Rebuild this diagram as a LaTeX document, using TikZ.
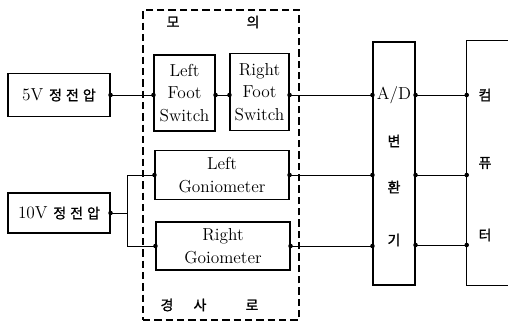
\documentclass[tikz,border=0pt]{standalone}
\usepackage{fontspec}
\newfontfamily\kr[FakeBold=1.2]{Noto Sans CJK KR}
\usetikzlibrary{positioning,calc}
\tikzset{
  blockBox/.style={draw, line width=0.8pt, inner sep=0pt, align=center, font=\fontsize{13}{17}\selectfont},
  mockFrame/.style={draw, line width=0.8pt, dash pattern=on 5.5pt off 3pt, inner sep=0pt},
  wireLine/.style={line width=0.7pt},
  krLabel/.style={font=\kr\fontsize{10.5}{12}\selectfont, inner sep=0pt},
  latLabel/.style={font=\fontsize{13}{17}\selectfont, inner sep=0pt}
}
\newcommand{\jdot}[1]{\fill (#1) circle (1.7pt);}

\begin{document}
\begin{tikzpicture}[x=0.75pt, y=-0.75pt]
  \useasboundingbox (0,0) rectangle (508,322);
  % rows of the signal lines
  \coordinate (rowA) at (0,95);
  \coordinate (rowB) at (0,175);
  \coordinate (rowC) at (0,245);

  % supply boxes
  \node[blockBox, minimum width=76.5pt, minimum height=32.25pt] (v5) at (59,95) {5V {\kr\fontsize{10.5}{12}\selectfont 정\hspace{3pt}전\hspace{3pt}압}};
  \node[blockBox, minimum width=76.5pt, minimum height=30pt] (v10) at (59,213) {10V {\kr\fontsize{10.5}{12}\selectfont 정\hspace{3pt}전\hspace{3pt}압}};

  % mock slope frame
  \node[mockFrame, minimum width=117pt, minimum height=232.5pt] (mock) at (221,165) {};
  \node[krLabel] (moT) at (173,22) {모};
  \node[krLabel] (uiT) at (253,22) {의};
  \node[krLabel] (gyT) at (167,305) {경};
  \node[krLabel] (saT) at (200,305) {사};
  \node[krLabel] (roT) at (252,305) {로};

  % sensors
  \node[blockBox, minimum width=45.75pt, minimum height=57pt] (lfs) at (184.5,93) {Left\\Foot\\Switch};
  \node[blockBox, minimum width=44.25pt, minimum height=57.75pt] (rfs) at (259.5,92) {Right\\Foot\\Switch};
  \node[blockBox, minimum width=100.5pt, minimum height=36.75pt] (lgon) at (222,175) {Left\\Goniometer};
  \node[blockBox, minimum width=100.5pt, minimum height=36pt] (rgon) at (223,246) {Right\\Goiometer};

  % converter and computer
  \node[blockBox, minimum width=31.5pt, minimum height=182.25pt] (adc) at (394,163.5) {};
  \node[latLabel] (adT) at (394,95) {A/D};
  \node[krLabel] (byT) at (394,141) {변};
  \node[krLabel] (hwT) at (394,187) {환};
  \node[krLabel] (giT) at (394,240) {기};
  \node[inner sep=0pt, minimum width=30.75pt, minimum height=183pt] (comp) at (487.5,163) {};
  \draw[line width=0.8pt] (comp.north east) -- (comp.north west) -- (comp.south west) -- (comp.south east);
  \node[krLabel] (kmT) at (485,95) {컴};
  \node[krLabel] (pyT) at (485,163) {퓨};
  \node[krLabel] (teT) at (485,235) {터};

  % wiring
  \draw[wireLine] (v5.east) -- (lfs.west |- rowA);
  \draw[wireLine] (lfs.east |- rowA) -- (rfs.west |- rowA);
  \draw[wireLine] (rfs.east |- rowA) -- (adc.west |- rowA);
  \draw[wireLine] (adc.east |- rowA) -- (comp.west |- rowA);
  \draw[wireLine] (lgon.east) -- (adc.west |- lgon.east);
  \draw[wireLine] (rgon.east) -- (adc.west |- rgon.east);
  \draw[wireLine] (adc.east |- rowB) -- (comp.west |- rowB);
  \draw[wireLine] (adc.east |- rowC) -- (comp.west |- rowC);
  \coordinate (fork) at ($(v10.east)+(17,0)$);
  \draw[wireLine] (v10.east) -- (fork);
  \draw[wireLine] (lgon.west) -| (fork) |- (rgon.west);

  % junction dots
  \jdot{v5.east} \jdot{lfs.west |- rowA} \jdot{lfs.east |- rowA} \jdot{rfs.west |- rowA}
  \jdot{rfs.east |- rowA} \jdot{adc.west |- rowA} \jdot{adc.east |- rowA} \jdot{comp.west |- rowA}
  \jdot{lgon.east} \jdot{adc.west |- lgon.east} \jdot{rgon.east} \jdot{adc.west |- rgon.east}
  \jdot{adc.east |- rowB} \jdot{comp.west |- rowB} \jdot{adc.east |- rowC} \jdot{comp.west |- rowC}
  \jdot{v10.east} \jdot{lgon.west} \jdot{rgon.west}
\end{tikzpicture}
\end{document}
